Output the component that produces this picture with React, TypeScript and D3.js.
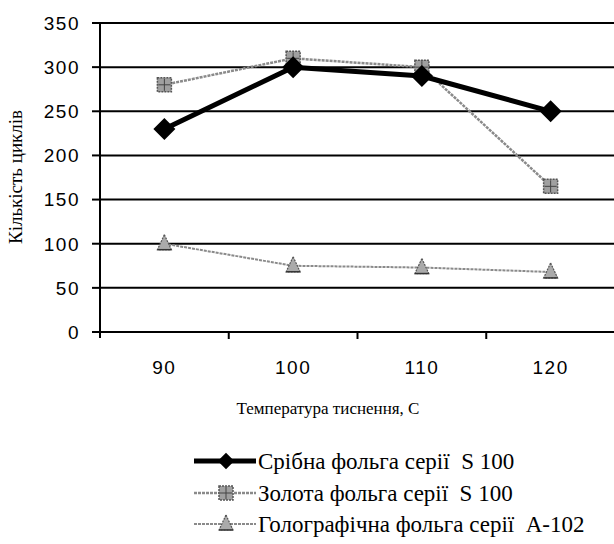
import React from "react";
import * as d3 from "d3";

const temps = ["90", "100", "110", "120"];
const silver = [230, 300, 290, 250];
const gold = [280, 310, 300, 165];
const holo = [100, 75, 73, 68];
const yTicks = [0, 50, 100, 150, 200, 250, 300, 350];

const seriesNames = [
  "Срібна фольга серії  S 100",
  "Золота фольга серії  S 100",
  "Голографічна фольга серії  А-102",
];

const SERIF = "'Liberation Serif', 'Times New Roman', serif";
const SANS = "'Liberation Sans', Arial, sans-serif";

function Marker({ kind, x, y, s = 1 }: { kind: string; x: number; y: number; s?: number }) {
  if (kind === "diamond") {
    const r = 11 * s;
    return <path d={`M${x} ${y - r} L${x + r} ${y} L${x} ${y + r} L${x - r} ${y} Z`} fill="#000" />;
  }
  if (kind === "square") {
    return (
      <g>
        <rect x={x - 7} y={y - 7} width={14} height={14} fill="#a0a0a0" stroke="#555" strokeWidth={1.5} strokeDasharray="2 1" />
        <path d={`M${x - 6} ${y} h12 M${x} ${y - 6} v12`} stroke="#444" strokeWidth={1} />
      </g>
    );
  }
  return (
    <g>
      <path d={`M${x} ${y - 9} L${x + 7} ${y + 6} L${x - 7} ${y + 6} Z`} fill="#aaa" stroke="#555" strokeWidth={1.2} strokeDasharray="2 1" />
      <path d={`M${x - 7} ${y + 6} h14`} stroke="#333" strokeWidth={1.5} />
    </g>
  );
}

export default function App() {
  const width = 614;
  const height = 544;
  const left = 100;
  const right = 615;
  const top = 23;
  const bottom = 332;

  const x = d3.scaleBand().domain(temps).range([left, right]);
  const y = d3.scaleLinear().domain([0, 350]).range([bottom, top]);
  const cx = (t: string) => (x(t) as number) + x.bandwidth() / 2;

  const line = d3
    .line<number>()
    .x((_, i) => cx(temps[i]))
    .y((d) => y(d));

  const series = [
    { name: seriesNames[0], values: silver, color: "#000", width: 5, kind: "diamond", dash: undefined },
    { name: seriesNames[1], values: gold, color: "#8a8a8a", width: 2.5, kind: "square", dash: "3 1" },
    { name: seriesNames[2], values: holo, color: "#8a8a8a", width: 2, kind: "triangle", dash: "3 1" },
  ];

  const legendRows = [461, 493, 524];

  return (
    <div style={{ position: "absolute", left: 0, top: 0 }}>
      <svg width={width} height={height} style={{ display: "block", background: "#fff" }}>
        {/* gridlines */}
        {yTicks.map((t) => (
          <g key={t}>
            <line x1={left} x2={right} y1={y(t)} y2={y(t)} stroke="#000" strokeWidth={2} />
            <line x1={left - 8} x2={left} y1={y(t)} y2={y(t)} stroke="#000" strokeWidth={2} />
            <text
              x={left - 20}
              y={y(t)}
              dy="0.36em"
              textAnchor="end"
              style={{ fontFamily: SANS, fontSize: 19, letterSpacing: 1.5 }}
            >
              {t}
            </text>
          </g>
        ))}
        <line x1={left} x2={left} y1={top} y2={bottom + 6} stroke="#000" strokeWidth={2} />
        {temps.map((t, i) => (
          <g key={t}>
            {i > 0 && (
              <line x1={x(t)} x2={x(t)} y1={bottom} y2={bottom + 7} stroke="#000" strokeWidth={2} />
            )}
            <text
              x={cx(t)}
              y={374}
              textAnchor="middle"
              style={{ fontFamily: SANS, fontSize: 19, letterSpacing: 1.5 }}
            >
              {t}
            </text>
          </g>
        ))}
        <text
          transform={`translate(22,177) rotate(-90)`}
          textAnchor="middle"
          style={{ fontFamily: SERIF, fontSize: 19 }}
        >
          Кількість циклів
        </text>
        <text x={328} y={414} textAnchor="middle" style={{ fontFamily: SERIF, fontSize: 17 }}>
          Температура тиснення, С
        </text>

        {/* series */}
        {series
          .slice()
          .reverse()
          .map((s) => (
            <g key={s.name}>
              <path
                d={line(s.values) || ""}
                fill="none"
                stroke={s.color}
                strokeWidth={s.width}
                strokeDasharray={s.dash}
                strokeLinejoin="round"
              />
              {s.values.map((v, i) => (
                <Marker key={i} kind={s.kind} x={cx(temps[i])} y={y(v)} />
              ))}
            </g>
          ))}

        {/* legend */}
        {series.map((s, i) => (
          <g key={s.name}>
            <line
              x1={194}
              x2={256}
              y1={legendRows[i]}
              y2={legendRows[i]}
              stroke={s.color}
              strokeWidth={s.width}
              strokeDasharray={s.dash}
            />
            <Marker kind={s.kind} x={226} y={legendRows[i]} s={0.75} />
            <text
              x={258}
              y={legendRows[i]}
              dy="0.35em"
              style={{ fontFamily: SERIF, fontSize: 23, whiteSpace: "pre" }}
            >
              {s.name}
            </text>
          </g>
        ))}
      </svg>
    </div>
  );
}
